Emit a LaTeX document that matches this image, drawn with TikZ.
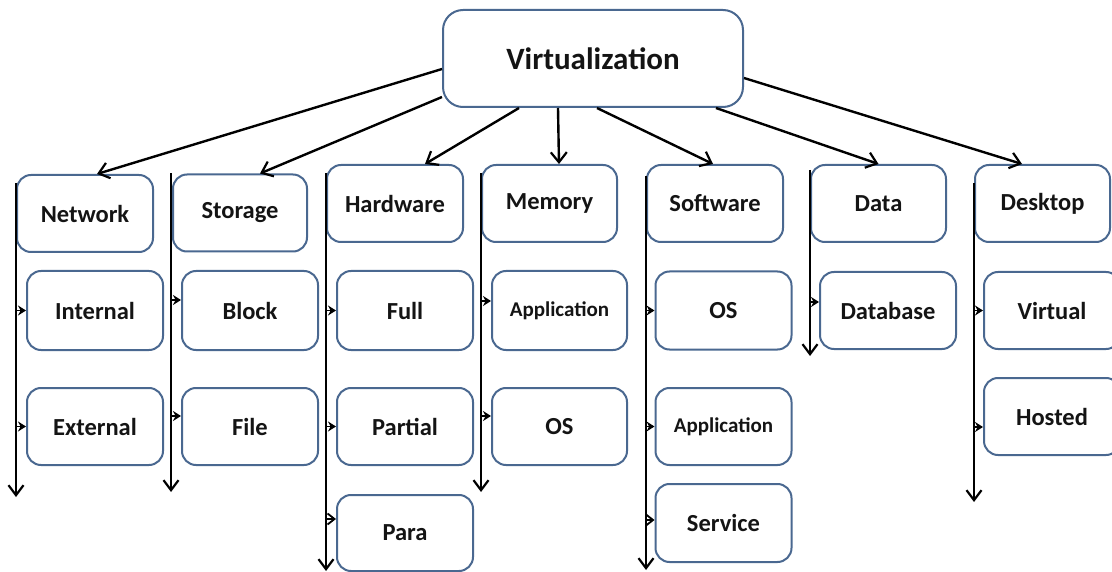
\documentclass[tikz,border=0pt]{standalone}
\usepackage{fontspec}
\setmainfont{Carlito}
\usetikzlibrary{arrows.meta}
\definecolor{boxblue}{HTML}{4A6890}
\tikzset{
  box/.style={draw=boxblue, line width=2pt, rounded corners=14pt, fill=white,
    font=\bfseries\fontsize{24.5}{28}\selectfont, text=black!92, inner sep=0pt,
    minimum width=135pt, minimum height=77pt},
  bigbox/.style={box, rounded corners=20pt, font=\bfseries\fontsize{31}{36}\selectfont,
    minimum width=300pt, minimum height=97pt},
  smalltext/.style={font=\bfseries\fontsize{21}{25}\selectfont},
  conn/.style={line width=2.4pt, -{Straight Barb[length=10pt,width=16pt,line width=2.2pt]}},
  vline/.style={line width=2.5pt, -{Straight Barb[length=10pt,width=15pt,line width=2.2pt]}},
  tick/.style={line width=1.8pt, -{Stealth[length=8pt,width=10pt]}},
  tickopen/.style={line width=1.8pt, -{Straight Barb[length=7pt,width=11pt,line width=1.8pt]}}
}
\begin{document}
\begin{tikzpicture}[x=1pt,y=-1pt]
\useasboundingbox (0,0) rectangle (1112,572);
\clip (0,0) rectangle (1112,572);

% main
\node[bigbox] (virt) at (593,58.5) {Virtualization};

% row 1
\node[box, minimum width=136pt] (net)  at (85,213.5)   {Network};
\node[box, minimum width=134pt] (sto)  at (240,213)    {Storage};
\node[box, minimum width=136pt] (hw)   at (395,203.5)  {Hardware};
\node[box] (mem)  at (549.5,203.5) {Memory};
\node[box, minimum width=136pt] (sw)   at (715,203.5)  {Software};
\node[box] (data) at (878.5,203.5) {Data};
\node[box] (desk) at (1042.5,203.5) {Desktop};

% network children
\node[box, minimum width=136pt, minimum height=79pt] (int) at (95,310.5) {Internal};
\node[box, minimum width=136pt] (ext) at (95,426.5) {External};
% storage children
\node[box, minimum width=136pt, minimum height=79pt] (blk) at (250,310.5) {Block};
\node[box, minimum width=136pt] (fil) at (250,426.5) {File};
% hardware children
\node[box, minimum width=136pt, minimum height=79pt] (full) at (405,310.5) {Full};
\node[box, minimum width=136pt] (part) at (405,426.5) {Partial};
\node[box, minimum width=136pt, minimum height=76pt] (para) at (405,533) {Para};
% memory children
\node[box, smalltext, minimum height=79pt] (app1) at (559.5,310.5) {Application};
\node[box] (os1) at (559.5,426.5) {OS};
% software children
\node[box, minimum width=136pt, minimum height=78pt] (os2) at (723.5,310.5) {OS};
\node[box, smalltext, minimum width=136pt] (app2) at (723.5,426.5) {Application};
\node[box, minimum width=136pt, minimum height=78pt] (svc) at (723.5,523) {Service};
% data child
\node[box, minimum width=136pt] (db) at (888,310.5) {Database};
% desktop children
\node[box, minimum width=136pt] (virtd) at (1052,310.5) {Virtual};
\node[box, minimum width=136pt] (host) at (1052,416.5) {Hosted};

% connectors from main
\draw[conn] ([yshift=-10.5pt]virt.west) -- ([xshift=12pt]net.north);
\draw[conn] ([yshift=-38.5pt]virt.west) -- ([xshift=20pt]sto.north);
\draw[conn] ([xshift=77pt]virt.south west) -- ([xshift=30pt]hw.north);
\draw[conn] ([xshift=116pt]virt.south west) -- ([xshift=9.5pt]mem.north);
\draw[conn] ([xshift=155pt]virt.south west) -- ([xshift=-2pt]sw.north);
\draw[conn] ([xshift=-28pt]virt.south east) -- (data.north);
\draw[conn] ([yshift=-19.5pt]virt.east) -- ([xshift=-20.5pt]desk.north);

% vertical spines
\draw[vline] ([yshift=-9pt]net.north west) -- (net.north west |- 0,497);
\draw[vline] ([xshift=-1pt]sto.north west) -- ([xshift=-1pt]sto.north west |- 0,492);
\draw[vline] ([yshift=-9pt]hw.north west) -- (hw.north west |- 0,571);
\draw[vline] ([yshift=-9pt]mem.north west) -- (mem.north west |- 0,492);
\draw[vline] ([yshift=-12pt]sw.north west) -- (sw.north west |- 0,570);
\draw[vline] ([yshift=-6pt]data.north west) -- (data.north west |- 0,356);
\draw[vline] ([yshift=-19pt]desk.north west) -- (desk.north west |- 0,502);

% ticks into children
\draw[tick] (net.north west |- int.west) -- (int.west);
\draw[tick] (net.north west |- ext.west) -- (ext.west);
\draw[tick] ([xshift=-1pt]sto.north west |- 0,300) -- (blk.west |- 0,300);
\draw[tick] ([xshift=-1pt]sto.north west |- 0,416) -- (fil.west |- 0,416);
\draw[tick] (hw.north west |- full.west) -- (full.west);
\draw[tick] (hw.north west |- part.west) -- (part.west);
\draw[tickopen] (hw.north west |- 0,519) -- (para.west |- 0,519);
\draw[tick] (mem.north west |- 0,301) -- (app1.west |- 0,301);
\draw[tick] (mem.north west |- 0,416) -- (os1.west |- 0,416);
\draw[tick] (sw.north west |- os2.west) -- (os2.west);
\draw[tick] (sw.north west |- app2.west) -- (app2.west);
\draw[tickopen] (sw.north west |- 0,520) -- (svc.west |- 0,520);
\draw[tick] (data.north west |- 0,302) -- (db.west |- 0,302);
\draw[tick] (desk.north west |- virtd.west) -- (virtd.west);
\draw[tick] (desk.north west |- 0,427) -- (host.west |- 0,427);
\end{tikzpicture}
\end{document}
